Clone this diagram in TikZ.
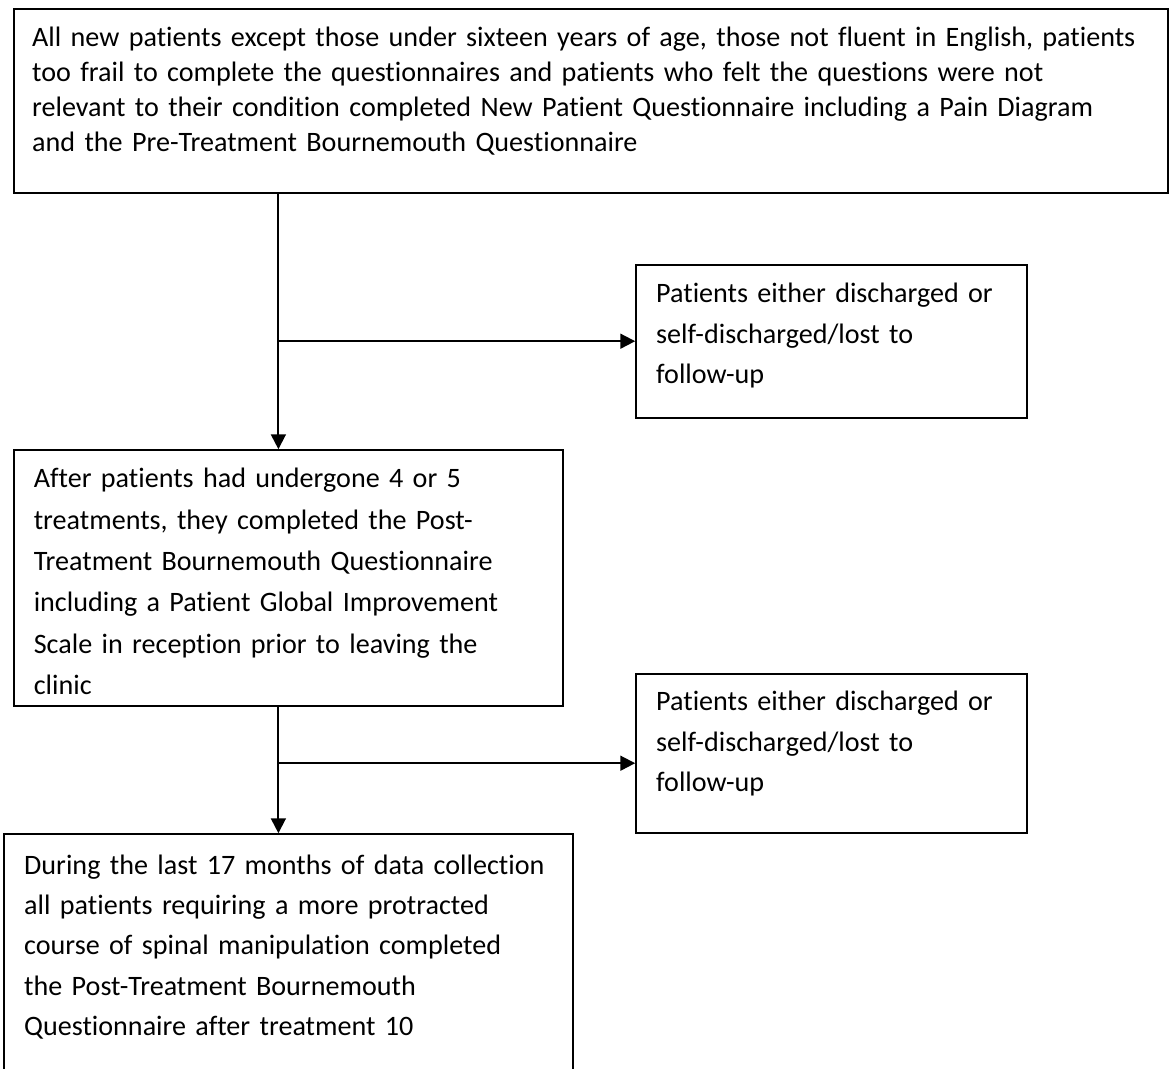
\documentclass[tikz,border=0pt]{standalone}
\usepackage{fontspec}
\setmainfont{Carlito}[Ligatures=CommonOff]
\usetikzlibrary{arrows.meta}

\begin{document}
\begin{tikzpicture}
\tikzset{>={Triangle[width=3.7mm,length=3.7mm]}}
\tikzstyle{box} =[draw, rectangle, anchor=north west, align=left, line width=1.4pt, inner xsep=0.5cm, inner ysep=0pt, font=\fontsize{20}{28.7}\selectfont]
\tikzstyle{flow} =[->, line width=1.4pt]

\useasboundingbox (0,0) rectangle (29.25,-26.7);

\node[box, text width=27.95cm, inner xsep=0.45cm, text height=0.94cm, text depth=3.66cm, font=\fontsize{20}{24.9}\selectfont](q1) at (0.33,-0.2){All new patients except those under sixteen years of age, those not fluent in English, patients\\ too frail to complete the questionnaires and patients who felt the questions were not\\ relevant to their condition completed New Patient Questionnaire including a Pain Diagram\\ and the Pre-Treatment Bournemouth Questionnaire};
\node[box, text width=8.78cm, text height=0.95cm, text depth=2.88cm](d1) at (15.88,-6.6){Patients either discharged or\\ self-discharged/lost to\\ follow-up};
\node[box, text width=12.72cm, text height=0.94cm, text depth=5.46cm, font=\fontsize{20}{29.4}\selectfont](q2) at (0.32,-11.23){After patients had undergone 4 or 5\\ treatments, they completed the Post-\\ Treatment Bournemouth Questionnaire\\ including a Patient Global Improvement\\ Scale in reception prior to leaving the\\ clinic};
\node[box, text width=8.78cm, text height=0.92cm, text depth=3.06cm](d2) at (15.88,-16.83){Patients either discharged or\\ self-discharged/lost to\\ follow-up};
\node[box, text width=13.22cm, text height=1.0cm, text depth=6.5cm](q3) at (0.08,-20.83){During the last 17 months of data collection\\ all patients requiring a more protracted\\ course of spinal manipulation completed\\ the Post-Treatment Bournemouth\\ Questionnaire after treatment 10};

\coordinate (s1) at (6.96,-8.53);
\coordinate (s2) at (6.96,-19.08);

\draw[flow] (q1.south -| s1) -- (q2.north -| s1);
\draw[flow] (s1) -- (s1 -| d1.west);
\draw[flow] (q2.south -| s2) -- (q3.north -| s2);
\draw[flow] (s2) -- (s2 -| d2.west);
\end{tikzpicture}
\end{document}
